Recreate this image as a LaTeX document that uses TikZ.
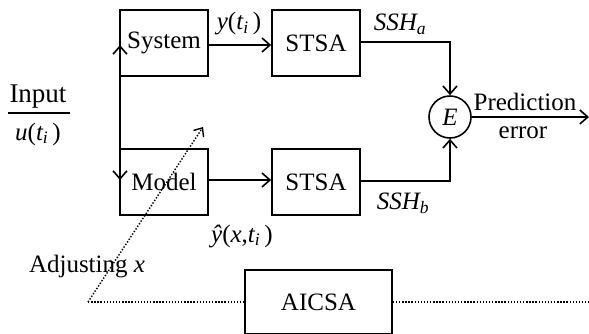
\documentclass[tikz,border=0pt]{standalone}
\usepackage{fontspec}
\setmainfont{Liberation Serif}
\usetikzlibrary{arrows.meta}
\begin{document}
\begin{tikzpicture}[x=1pt,y=-1pt,
  font=\fontsize{25}{29}\selectfont,
  every node/.style={inner sep=0pt},
  box/.style={draw,line width=1.6pt,minimum width=88pt,minimum height=66pt},
  conn/.style={line width=1.6pt},
  arr/.style={conn,-{Straight Barb[length=8pt,width=14pt,line width=1.6pt]}},
  dots/.style={line width=1.4pt,dash pattern=on 1.4pt off 1.7pt},
  lbl/.style={anchor=center}]
\useasboundingbox (0,0) rectangle (589,333);
\node[box] (sys) at (164,43) {System};
\node[box] (stsa1) at (316,43) {STSA};
\node[box] (mod) at (164,182) {Model};
\node[box] (stsa2) at (316,182) {STSA};
\node[draw,circle,line width=1.6pt,minimum size=42pt] (E) at (450,117) {\itshape E};
\node[draw,line width=1.6pt,minimum width=147pt,minimum height=64pt] (aic) at (318.5,302) {AICSA};
% labels
\node[lbl,font=\fontsize{27}{31}\selectfont] (lin) at (38,97) {Input};
\node[lbl] (lu) at (38,134) {\itshape u\upshape(\itshape t\textsubscript{i}\,\upshape)};
\draw[line width=1.4pt] (8,113) -- (70,113);
\node[lbl] (ly) at (239,24) {\itshape y\upshape(\itshape t\textsubscript{i}\,\upshape)};
\node[lbl] (la) at (400,24) {\itshape SSH\textsubscript{a}};
\node[lbl] (lb) at (403,203) {\itshape SSH\textsubscript{b}};
\node[lbl] (lyh) at (242,236) {\itshape ŷ\upshape(\itshape x\upshape,\itshape t\textsubscript{i}\,\upshape)};
\node[lbl] (ladj) at (87,267) {Adjusting \itshape x};
\node[lbl] (lp) at (525,102) {Prediction};
\node[lbl] (le) at (523,133) {error};
% coordinates
\coordinate (vtop) at (120,45);
\coordinate (vbot) at (120,180);
\coordinate (vmid) at (120,112);
\coordinate (cA) at (450,42);
\coordinate (cB) at (450,181);
\coordinate (out) at (589,117);
\coordinate (dstart) at (88,302);
\coordinate (dtip) at (203,127);
\coordinate (dend) at (589,302);
% connectors
\draw[arr] (vmid) -- (vtop);
\draw[arr] (vmid) -- (vbot);
\draw[arr] (sys.east |- vtop) -- (stsa1.west |- vtop);
\draw[arr] (mod.east |- vbot) -- (stsa2.west |- vbot);
\draw[arr] (stsa1.east |- cA) -- (cA) -- (E.north);
\draw[arr] (stsa2.east |- cB) -- (cB) -- (E.south);
\draw[arr] (E.east) -- (out);
\draw[dots,-{Straight Barb[length=7pt,width=12pt,line width=1.4pt]}] (dstart) -- (dtip);
\draw[dots] (dstart) -- (aic.west);
\draw[dots] (aic.east) -- (dend);
\end{tikzpicture}
\end{document}
